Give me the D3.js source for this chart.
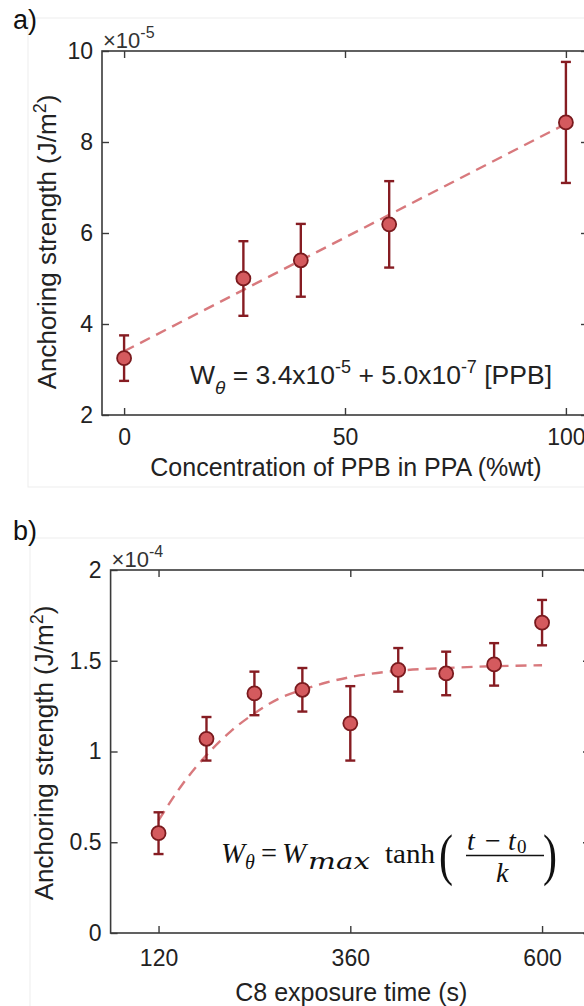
<!DOCTYPE html>
<html>
<head>
<meta charset="utf-8">
<script src="https://cdn.jsdelivr.net/npm/d3@7"></script>
<style>
  html, body { margin: 0; padding: 0; background: #fff; overflow: hidden; }
  svg { display: block; }
</style>
</head>
<body>
<svg id="chart" width="584" height="1006"></svg>
<script>
/*******************************************************************************************/
// Data (units of 1e-5 J/m2 for a, 1e-4 J/m2 for b)

var concA      = [0, 27, 40, 60, 100];
var strengthA  = [3.25, 5.0, 5.4, 6.19, 8.43];
var errA       = [0.5, 0.82, 0.8, 0.95, 1.33];
var fitConcA   = [0, 100];
var fitValA    = [3.4, 8.4];
var xTicksA    = [0, 50, 100];
var yTicksA    = [2, 4, 6, 8, 10];

var timeB      = [120, 180, 240, 300, 360, 420, 480, 540, 600];
var strengthB  = [0.55, 1.07, 1.32, 1.34, 1.155, 1.45, 1.43, 1.48, 1.71];
var errB       = [0.115, 0.12, 0.12, 0.12, 0.205, 0.12, 0.12, 0.117, 0.125];
var fitTimeB   = [120, 150, 180, 210, 240, 270, 300, 330, 360, 420, 480, 540, 600];
var fitValB    = [0.62, 0.82, 0.98, 1.11, 1.21, 1.29, 1.34, 1.38, 1.41, 1.445, 1.46, 1.47, 1.475];
var xTicksB    = [120, 360, 600];
var yTicksB    = [0, 0.5, 1, 1.5, 2];

/*******************************************************************************************/
// Styles

var FONT = '"Liberation Sans", Arial, Helvetica, sans-serif';
var SERIF = '"Liberation Serif", "DejaVu Serif", serif';
var AXIS_COLOR = '#3a3a3a', BAR_COLOR = '#861c22', DOT_FILL = '#d45a5e', DOT_EDGE = '#7a1a1e',
    FIT_COLOR = '#d8797d';

var svg = d3.select('#chart');

/*******************************************************************************************/

function drawPanel(p){
  var xScale = d3.scaleLinear().domain(p.xDomain).range([p.left, p.right]);
  var yScale = d3.scaleLinear().domain(p.yDomain).range([p.bottom, p.top]);

  // faint outline of the pasted figure
  svg.append('rect').attr('x', p.frame[0]).attr('y', p.frame[1]).attr('width', p.frame[2]).attr('height', p.frame[3])
     .style('fill', 'none').style('stroke', '#ededed').style('stroke-width', 1);

  var g = svg.append('g');

  var bottom = g.append('g').attr('transform', 'translate(0,' + p.bottom + ')')
    .call(d3.axisBottom(xScale).tickValues(p.xTicks).tickSizeInner(-7).tickSizeOuter(0).tickPadding(p.xPad));
  var top = g.append('g').attr('transform', 'translate(0,' + p.top + ')')
    .call(d3.axisTop(xScale).tickValues(p.xTicks).tickSizeInner(-7).tickSizeOuter(0).tickFormat(''));
  var left = g.append('g').attr('transform', 'translate(' + p.left + ',0)')
    .call(d3.axisLeft(yScale).tickValues(p.yTicks).tickSizeInner(-7).tickSizeOuter(0).tickPadding(9).tickFormat(d3.format('')));
  var right = g.append('g').attr('transform', 'translate(' + p.right + ',0)')
    .call(d3.axisRight(yScale).tickValues(p.yTicks).tickSizeInner(-7).tickSizeOuter(0).tickFormat(''));

  [bottom, top, left, right].forEach(function(a){
    a.select('.domain').remove();
    a.selectAll('line').style('stroke', AXIS_COLOR).style('stroke-width', 1.4);
    a.selectAll('text').style('font-family', FONT).style('font-size', '23px').style('fill', '#222');
  });

  g.append('rect').attr('x', p.left).attr('y', p.top).attr('width', p.right - p.left).attr('height', p.bottom - p.top)
   .style('fill', 'none').style('stroke', AXIS_COLOR).style('stroke-width', 1.6);

  // exponent multiplier
  var mult = g.append('text').attr('x', p.left + 1).attr('y', p.top - 3)
    .style('font-family', FONT).style('font-size', '22px').style('fill', '#333');
  mult.append('tspan').text('\u00d710');
  mult.append('tspan').attr('dy', -10).style('font-size', '16px').text(p.exponent);

  // fit line
  var fitData = p.fitX.map(function(d, i){ return [xScale(d), yScale(p.fitY[i])]; });
  g.append('path').attr('d', d3.line().curve(d3.curveMonotoneX)(fitData))
   .style('fill', 'none').style('stroke', FIT_COLOR).style('stroke-width', 2.4).style('stroke-dasharray', '11,7');

  // error bars + markers
  var pts = p.x.map(function(d, i){ return { x: d, y: p.y[i], e: p.err[i] }; });
  var bars = g.append('g').selectAll('g').data(pts).enter().append('g');
  bars.append('line')
    .attr('x1', d => xScale(d.x)).attr('x2', d => xScale(d.x))
    .attr('y1', d => yScale(d.y - d.e)).attr('y2', d => yScale(d.y + d.e));
  bars.append('line')
    .attr('x1', d => xScale(d.x) - 5).attr('x2', d => xScale(d.x) + 5)
    .attr('y1', d => yScale(d.y + d.e)).attr('y2', d => yScale(d.y + d.e));
  bars.append('line')
    .attr('x1', d => xScale(d.x) - 5).attr('x2', d => xScale(d.x) + 5)
    .attr('y1', d => yScale(d.y - d.e)).attr('y2', d => yScale(d.y - d.e));
  bars.selectAll('line').style('stroke', BAR_COLOR).style('stroke-width', 2.4);
  bars.append('circle').attr('cx', d => xScale(d.x)).attr('cy', d => yScale(d.y)).attr('r', 7)
    .style('fill', DOT_FILL).style('stroke', DOT_EDGE).style('stroke-width', 1.8);

  // axis titles
  g.append('text').attr('x', (p.left + Math.min(p.right, 584)) / 2 + p.xLabelShift).attr('y', p.xLabelY)
   .style('text-anchor', 'middle').style('font-family', FONT).style('font-size', '25px').style('fill', '#222')
   .text(p.xLabel);

  var yl = g.append('text').attr('transform', 'translate(' + p.yLabelX + ',' + p.yLabelMid + ') rotate(-90)')
   .style('text-anchor', 'middle').style('font-family', FONT).style('font-size', '26px').style('fill', '#222');
  yl.append('tspan').text('Anchoring strength (J/m');
  yl.append('tspan').attr('dy', -10).style('font-size', '18px').text('2');
  yl.append('tspan').attr('dy', 10).text(')');

  // panel letter
  svg.append('text').attr('x', p.letter[0]).attr('y', p.letter[1])
     .style('font-family', FONT).style('font-size', '27px').style('fill', '#111').text(p.letterText);

  return { x: xScale, y: yScale, g: g };
}

/*******************************************************************************************/

var panelA = drawPanel({
  left: 102, right: 588, top: 51, bottom: 415,
  xDomain: [-5, 105], yDomain: [2, 10],
  xTicks: xTicksA, yTicks: yTicksA, xPad: 14,
  x: concA, y: strengthA, err: errA, fitX: fitConcA, fitY: fitValA,
  exponent: '-5', xLabel: 'Concentration of PPB in PPA (%wt)', xLabelY: 476, xLabelShift: 3,
  yLabelX: 56, yLabelMid: 242, frame: [28, 18, 600, 469], letter: [13, 29], letterText: 'a)'
});

var panelB = drawPanel({
  left: 110.6, right: 590, top: 570, bottom: 933,
  xDomain: [60, 660], yDomain: [0, 2],
  xTicks: xTicksB, yTicks: yTicksB, xPad: 17,
  x: timeB, y: strengthB, err: errB, fitX: fitTimeB, fitY: fitValB,
  exponent: '-4', xLabel: 'C8 exposure time (s)', xLabelY: 1001, xLabelShift: 4,
  yLabelX: 53, yLabelMid: 753, frame: [30, 538, 600, 500], letter: [13, 540], letterText: 'b)'
});

/*******************************************************************************************/
// Equation a

var eqA = panelA.g.append('text').attr('x', 190).attr('y', 384)
  .style('font-family', FONT).style('font-size', '26.5px').style('fill', '#222');
eqA.append('tspan').text('W');
eqA.append('tspan').attr('dy', 10).style('font-size', '19px').style('font-style', 'italic').text('\u03b8');
eqA.append('tspan').attr('dy', -10).text(' = 3.4x10');
eqA.append('tspan').attr('dy', -11).style('font-size', '18px').text('-5');
eqA.append('tspan').attr('dy', 11).text(' + 5.0x10');
eqA.append('tspan').attr('dy', -11).style('font-size', '18px').text('-7');
eqA.append('tspan').attr('dy', 11).text(' [PPB]');

/*******************************************************************************************/
// Equation b

var eqB = panelB.g.append('g').style('font-family', SERIF).style('fill', '#111');
function eqText(x, y, size, italic, str, len){
  var t = eqB.append('text').attr('x', x).attr('y', y).style('font-size', size + 'px')
    .style('font-style', italic ? 'italic' : 'normal').text(str);
  if (len) t.attr('textLength', len).attr('lengthAdjust', 'spacingAndGlyphs');
  return t;
}
eqText(221, 863, 29, true, 'W', 24);
eqText(245, 869, 20, true, '\u03b8');
eqText(261, 863, 29, false, '=', 16);
eqText(282, 863, 29, true, 'W', 24);
eqText(308, 869, 23, true, 'max', 62).style('font-family', '"DejaVu Serif", serif');
eqText(385, 863, 28, false, 'tanh', 50);
eqText(439, 874, 58, false, '(', 14);
eqText(467, 850, 28, true, 't');
eqText(485, 850, 28, false, '\u2212');
eqText(508, 850, 28, true, 't');
eqText(517, 853, 19, false, '0');
eqB.append('line').attr('x1', 466).attr('x2', 544).attr('y1', 855.5).attr('y2', 855.5)
   .style('stroke', '#111').style('stroke-width', 1.4);
eqText(496, 882, 28, true, 'k');
eqText(543, 874, 58, false, ')', 14);
</script>
</body>
</html>
